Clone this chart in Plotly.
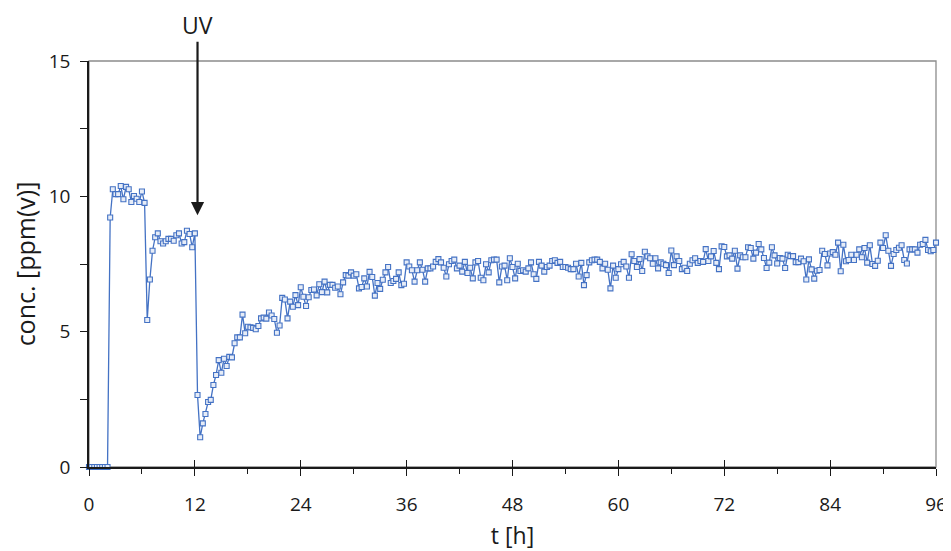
import plotly.graph_objects as go

# concentration readings, one every 0.3 h from t = 0 to t = 96 h
conc_zero = [0, 0, 0, 0, 0, 0, 0, 0]
conc_plateau1 = [9.22, 10.26, 10.08, 10.08, 10.38, 9.89, 10.35, 10.26, 9.79, 10.01,
                 9.91, 9.79, 10.18, 9.76]
conc_plateau2 = [5.43, 6.93, 7.99, 8.49, 8.63, 8.34, 8.26, 8.34, 8.43, 8.43, 8.36,
                 8.56, 8.63, 8.26, 8.31, 8.73, 8.61, 8.12, 8.63]
conc_recovery = [2.66, 1.10, 1.61, 1.96, 2.40, 2.48, 3.03, 3.40, 3.95, 3.48, 4.00,
                 3.73, 4.07, 4.05, 4.57, 4.79, 4.79, 5.63, 4.94, 5.18, 5.16, 5.14,
                 5.09, 5.21, 5.49, 5.52, 5.48, 5.71, 5.60, 5.47, 4.96, 5.23, 6.25,
                 6.19, 5.49, 6.11, 5.92, 6.35, 5.98, 6.64, 6.29, 5.95, 6.27, 6.54,
                 6.56, 6.34, 6.75, 6.46, 6.85, 6.45, 6.73, 6.73, 6.62]
conc_seg_a = [6.67, 6.38, 6.82, 7.09, 7.07, 7.19, 7.07, 7.12, 6.60, 6.65, 6.97, 6.67,
              7.21, 7.02, 6.33, 6.80, 6.58, 6.92, 7.19, 7.39, 6.80, 6.87, 6.95, 7.19,
              6.72, 6.77, 7.56, 7.41, 7.27, 6.85, 7.27, 7.56, 7.29, 6.85, 7.34, 7.34,
              7.41, 7.58, 7.68]
conc_seg_b = [7.56, 7.36, 7.04, 7.49, 7.61, 7.66, 7.34, 7.44, 7.22, 7.58, 7.17, 7.36,
              6.97, 7.56, 7.61, 6.99, 6.90, 7.49, 7.19, 7.64, 7.66, 7.66, 6.82, 7.41,
              7.44, 6.90, 7.71, 7.39, 6.97, 7.51, 7.24, 7.27, 7.22, 7.34, 7.56, 7.12,
              6.95, 7.58, 7.44, 7.22, 7.39, 7.44, 7.61, 7.64, 7.54, 7.58, 7.39, 7.39,
              7.36, 7.31, 7.31, 7.51, 7.04, 7.54, 6.72]
conc_seg_c = [7.09, 7.56, 7.64, 7.66, 7.66, 7.58, 7.34, 7.51, 7.29, 6.60, 7.44, 6.99,
              7.31, 7.49, 7.58, 7.41, 6.99, 7.86, 7.61, 7.39, 7.68, 7.24, 7.95, 7.78,
              7.71, 7.51, 7.71, 7.34, 7.56, 7.51, 7.46, 7.17, 8.00, 7.46, 7.78, 7.61,
              7.31, 7.36, 7.24, 7.51, 7.64, 7.71, 7.54, 7.61, 7.58, 8.05, 7.61, 7.78,
              7.98, 7.54, 7.31, 8.15, 8.13, 7.78]
conc_seg_d = [7.82, 7.70, 7.99, 7.33, 7.82, 7.75, 7.75, 8.12, 8.09, 7.70, 7.92, 8.24,
              8.04, 7.72, 7.35, 7.55, 8.12, 7.82, 7.52, 7.72, 7.70, 7.35, 7.84, 7.79,
              7.79, 7.57, 7.57, 7.70, 7.60, 6.93, 7.67, 7.30, 6.96, 7.25, 7.28, 7.99,
              7.87, 7.45, 7.89, 7.94, 7.84, 8.29, 7.23, 8.21, 7.60, 7.65, 7.84, 7.65,
              7.84, 8.04, 7.75, 8.09, 7.55, 8.19, 7.50]
conc_seg_e = [7.43, 7.62, 8.29, 8.09, 8.56, 7.99, 7.43, 7.87, 8.02, 8.10, 8.19, 7.65,
              7.52, 8.04, 8.04, 8.04, 7.92, 8.21, 8.24, 8.39, 8.02, 7.97, 8.02, 8.29]

conc = (conc_zero + conc_plateau1 + conc_plateau2 + conc_recovery + conc_seg_a
        + conc_seg_b + conc_seg_c + conc_seg_d + conc_seg_e)
t_h = [round(0.3 * i, 1) for i in range(len(conc))]

x_ticks = [0, 12, 24, 36, 48, 60, 72, 84, 96]
y_ticks = [0, 5, 10, 15]
uv_time = 12.3
uv_conc = 9.3

FONT = "Open Sans, Noto Sans, sans-serif"
BLUE = "#4472C4"

fig = go.Figure()
fig.add_trace(go.Scatter(
    x=t_h, y=conc, mode="lines+markers",
    line=dict(color=BLUE, width=1.3),
    marker=dict(symbol="square", size=5, color="#e6ecf7",
                line=dict(color=BLUE, width=1.1)),
    cliponaxis=False, showlegend=False,
))
# invisible trace to host the inner half of the major x ticks
fig.add_trace(go.Scatter(x=[t_h[0]], y=[conc[0]], xaxis="x2", mode="markers",
                         marker=dict(opacity=0), showlegend=False, hoverinfo="skip"))

# the page body adds an 8 px margin, so the figure is 8 px smaller than the window
fig.update_layout(
    width=943, height=543,
    margin=dict(l=81, r=15, t=53, b=84),
    paper_bgcolor="white", plot_bgcolor="white",
    font=dict(family=FONT, size=19, color="#1a1a1a"),
    xaxis=dict(
        range=[0, 96], tickmode="array", tickvals=x_ticks,
        ticktext=[str(v) for v in x_ticks], automargin=False,
        showgrid=False, zeroline=False,
        showline=True, linecolor="#1a1a1a", linewidth=1.5,
        ticks="outside", ticklen=7, tickwidth=1.3, tickcolor="#1a1a1a",
        minor=dict(ticks="outside", dtick=6, ticklen=5, tickwidth=1.1,
                   tickcolor="#1a1a1a", showgrid=False),
        ticklabelstandoff=12,
        title=dict(text="t [h]", standoff=13, font=dict(size=23)),
    ),
    xaxis2=dict(
        range=[0, 96], overlaying="x", anchor="y", side="bottom", automargin=False,
        tickmode="array", tickvals=x_ticks, showticklabels=False,
        ticks="inside", ticklen=7, tickwidth=1.3, tickcolor="#1a1a1a",
        showgrid=False, zeroline=False, showline=False,
    ),
    yaxis=dict(
        range=[0, 15], tickmode="array", tickvals=y_ticks,
        ticktext=[str(v) for v in y_ticks], automargin=False,
        showgrid=False, zeroline=False,
        showline=True, linecolor="#1a1a1a", linewidth=1.5,
        ticks="outside", ticklen=7, tickwidth=1.3, tickcolor="#1a1a1a",
        minor=dict(ticks="outside", dtick=2.5, ticklen=7, tickwidth=1.3,
                   tickcolor="#1a1a1a", showgrid=False),
        ticklabelstandoff=6,
        title=dict(text="conc. [ppm(v)]", standoff=11, font=dict(size=25)),
    ),
    shapes=[dict(type="rect", xref="paper", yref="paper", x0=0, y0=0, x1=1, y1=1,
                 line=dict(color="#8c8c8c", width=1.3), layer="below")],
    annotations=[dict(
        x=uv_time, y=uv_conc, xref="x", yref="y",
        text="UV", showarrow=True, ax=0, ay=-190, borderpad=0,
        arrowhead=2, arrowsize=1.2, arrowwidth=2.2, arrowcolor="#1a1a1a",
        font=dict(size=23, color="#1a1a1a", family=FONT),
    )],
)

fig.write_html("out.html")
